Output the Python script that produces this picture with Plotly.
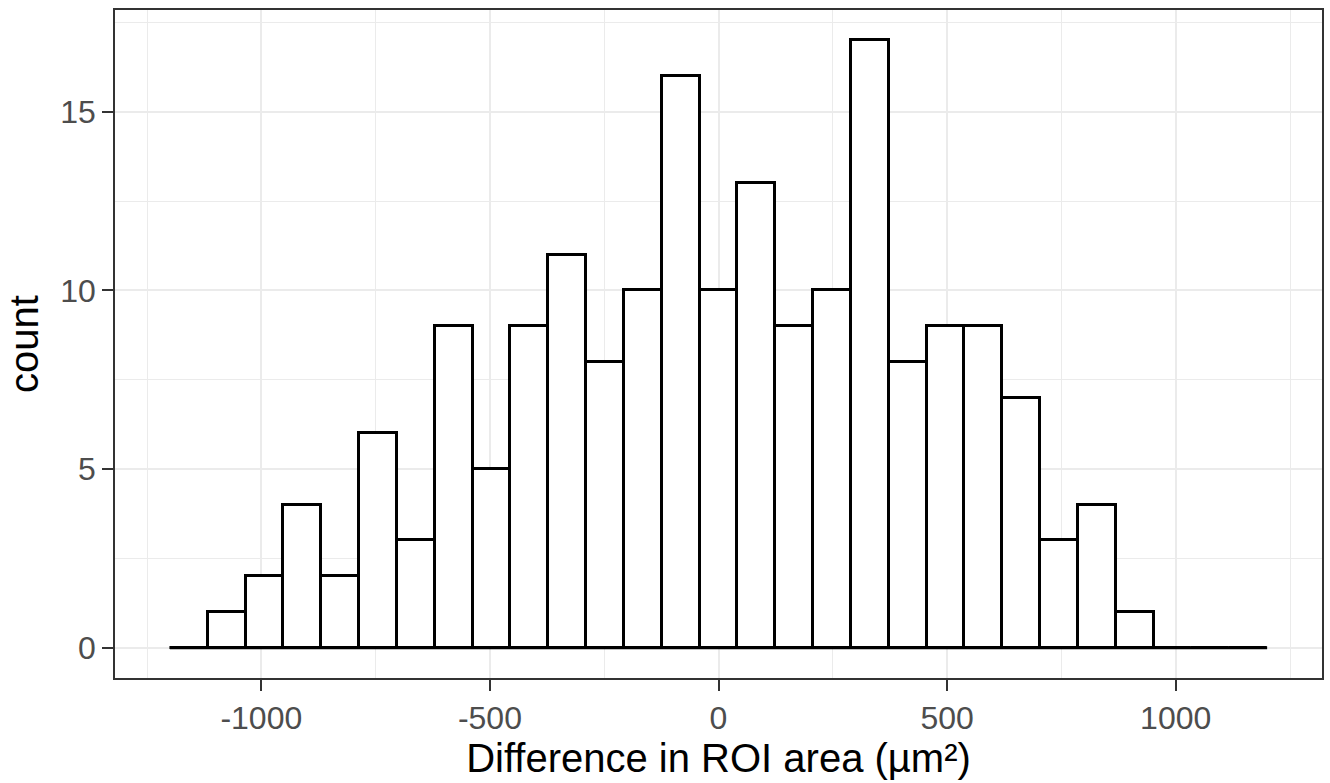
import plotly.graph_objects as go

# Histogram definition
bin_lo = -1200.0
bin_hi = 1200.0
n_bins = 29
counts = [0, 1, 2, 4, 2, 6, 3, 9, 5, 9, 11, 8, 10, 16, 10, 13, 9, 10, 17, 8,
          9, 9, 7, 3, 4, 1, 0, 0, 0]

x_ticks = [-1000, -500, 0, 500, 1000]
x_tick_labels = ["-1000", "-500", "0", "500", "1000"]
y_ticks = [0, 5, 10, 15]
y_tick_labels = ["0", "5", "10", "15"]

bin_width = (bin_hi - bin_lo) / n_bins
centers = [bin_lo + bin_width * (i + 0.5) for i in range(n_bins)]

FONT = "Liberation Sans, Arial, Helvetica, sans-serif"

fig = go.Figure()
fig.add_trace(go.Scatter(
    x=[bin_lo, bin_hi], y=[0, 0], mode="lines",
    line=dict(color="black", width=3), hoverinfo="skip", showlegend=False,
))
fig.add_trace(go.Bar(
    x=centers, y=counts, width=bin_width,
    marker=dict(color="white", line=dict(color="black", width=3)),
    showlegend=False,
))

x_pad = (bin_hi - bin_lo) * 0.05
y_max = max(counts)
y_pad = y_max * 0.05

fig.update_layout(
    width=1330, height=783,
    margin=dict(l=115, r=8, t=10, b=105),
    paper_bgcolor="white", plot_bgcolor="white",
    bargap=0,
    font=dict(family=FONT, color="#4D4D4D", size=32),
    xaxis=dict(
        range=[bin_lo - x_pad, bin_hi + x_pad],
        tickvals=x_ticks, ticktext=x_tick_labels,
        ticks="outside", ticklen=11, tickwidth=2, tickcolor="#333333",
        tickfont=dict(size=32, color="#4D4D4D"),
        showgrid=True, gridcolor="#EBEBEB", gridwidth=1.5,
        minor=dict(dtick=250, tick0=-1250, showgrid=True, gridcolor="#EBEBEB", gridwidth=1),
        showline=True, linecolor="#333333", linewidth=1.5, mirror=True,
        zeroline=False,
        title=dict(text="Difference in ROI area (µm²)", font=dict(size=40, color="black"), standoff=6),
        automargin=False,
    ),
    yaxis=dict(
        range=[-y_pad, y_max + y_pad],
        tickvals=y_ticks, ticktext=y_tick_labels,
        ticks="outside", ticklen=11, tickwidth=2, tickcolor="#333333",
        tickfont=dict(size=32, color="#4D4D4D"),
        showgrid=True, gridcolor="#EBEBEB", gridwidth=1.5,
        minor=dict(dtick=2.5, tick0=2.5, showgrid=True, gridcolor="#EBEBEB", gridwidth=1),
        showline=True, linecolor="#333333", linewidth=1.5, mirror=True,
        zeroline=False,
        automargin=False,
    ),
    annotations=[dict(
        text="count", textangle=-90, showarrow=False,
        xref="paper", yref="paper", x=0, y=0.5,
        xanchor="center", yanchor="middle", xshift=-91,
        font=dict(size=40, color="black", family=FONT),
    )],
)

fig.write_html(
    "out.html",
    config={"displayModeBar": False},
    post_script="document.body.style.margin='0';document.body.style.overflow='hidden';",
)
